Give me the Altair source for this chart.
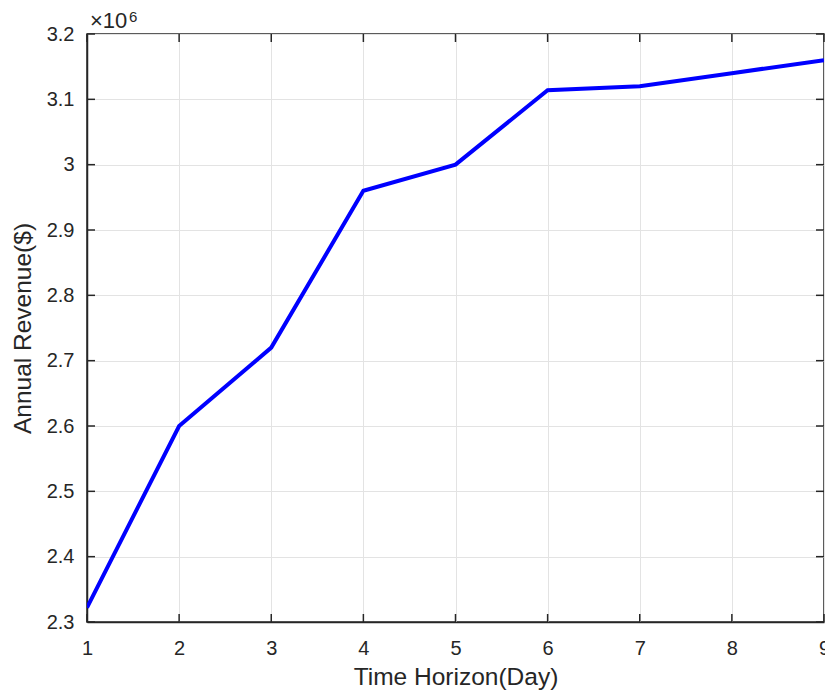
import altair as alt
import pandas as pd

days = [1, 2, 3, 4, 5, 6, 7, 8, 9]
revenue = [2.322e6, 2.600e6, 2.720e6, 2.960e6, 3.000e6, 3.114e6, 3.120e6, 3.140e6, 3.160e6]
x_ticks = [1, 2, 3, 4, 5, 6, 7, 8, 9]
y_ticks = [2.3, 2.4, 2.5, 2.6, 2.7, 2.8, 2.9, 3.0, 3.1, 3.2]

W, H = 737, 588
FONT = "Liberation Sans"
TXT = "#262626"

df = pd.DataFrame({"day": days, "rev": [r / 1e6 for r in revenue]})
xt = pd.DataFrame({"t": x_ticks})
yt = pd.DataFrame({"t": y_ticks})

xs = alt.Scale(domain=[1, 9], nice=False, zero=False)
ys = alt.Scale(domain=[2.3, 3.2], nice=False, zero=False)

line = alt.Chart(df).mark_line(color="#0000ff", strokeWidth=4, clip=True).encode(
    x=alt.X("day:Q", scale=xs, title="Time Horizon(Day)",
            axis=alt.Axis(values=x_ticks, format="d", grid=True, gridColor="#e3e3e3",
                          gridWidth=1, tickSize=0, labelPadding=16, domainColor=TXT,
                          domainWidth=1.5, labelFontSize=20, titleFontSize=24.5,
                          titlePadding=7, labelColor=TXT, titleColor=TXT,
                          labelFont=FONT, titleFont=FONT, titleFontWeight="normal",
                          labelOverlap=False, labelFlush=False)),
    y=alt.Y("rev:Q", scale=ys, title="Annual Revenue($)",
            axis=alt.Axis(values=y_ticks, format=".1~f", grid=True, gridColor="#e3e3e3",
                          gridWidth=1, tickSize=0, labelPadding=13, domainColor=TXT,
                          domainWidth=1.5, labelFontSize=20, titleFontSize=24.5,
                          titlePadding=11, labelColor=TXT, titleColor=TXT,
                          labelFont=FONT, titleFont=FONT, titleFontWeight="normal",
                          labelOverlap=False, labelFlush=False)),
)

tick_color = TXT
bx = alt.Chart(xt).mark_rule(color=tick_color, strokeWidth=1.5).encode(
    x=alt.X("t:Q", scale=xs), y=alt.value(H), y2=alt.value(H - 8))
tx = alt.Chart(xt).mark_rule(color=tick_color, strokeWidth=1.5).encode(
    x=alt.X("t:Q", scale=xs), y=alt.value(0), y2=alt.value(8))
ly = alt.Chart(yt).mark_rule(color=tick_color, strokeWidth=1.5).encode(
    y=alt.Y("t:Q", scale=ys), x=alt.value(0), x2=alt.value(8))
ry = alt.Chart(yt).mark_rule(color=tick_color, strokeWidth=1.5).encode(
    y=alt.Y("t:Q", scale=ys), x=alt.value(W), x2=alt.value(W - 8))

exp_df = pd.DataFrame({"txt": ["\u00d710"], "sup": ["6"]})
exp1 = alt.Chart(exp_df).mark_text(align="left", baseline="alphabetic", fontSize=22,
                                   font=FONT, color=TXT).encode(
    text="txt:N", x=alt.value(3), y=alt.value(-6))
exp2 = alt.Chart(exp_df).mark_text(align="left", baseline="alphabetic", fontSize=15,
                                   font=FONT, color=TXT).encode(
    text="sup:N", x=alt.value(42), y=alt.value(-12))

chart = alt.layer(line, bx, tx, ly, ry, exp1, exp2).properties(
    width=W, height=H,
    autosize=alt.AutoSizeParams(type="none"),
    padding={"left": 79, "top": 26, "right": 1, "bottom": 69},
    background="white",
).configure_view(stroke=TXT, strokeWidth=1.5)

chart.save("out.html", embed_options={"renderer": "svg", "actions": False})
